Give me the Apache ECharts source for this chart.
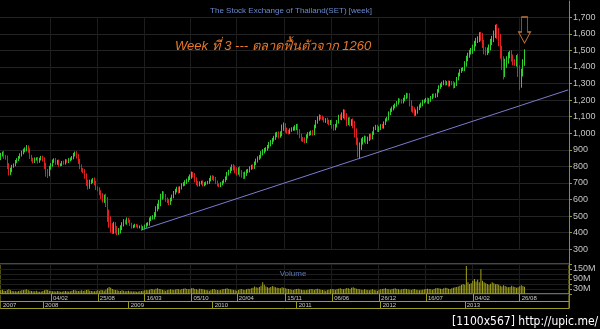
<!DOCTYPE html>
<html><head><meta charset="utf-8">
<script src="https://cdn.jsdelivr.net/npm/echarts@6/dist/echarts.min.js"></script>
<style>html,body{margin:0;padding:0;background:#000}#c{width:600px;height:329px}</style>
</head><body><div id="c"></div>
<script>
// ---- weekly SET closes, first week = 2007-07-02 ----
const firstOpen = 850;
const close2007 = [870,880,860,850,800,765,775,800,810,830,840,855,870,885,895,905,915,895,860,840,830,845,845,830,845,855];
const close2008 = [840,800,760,755,790,810,830,840,820,830, 810,810,825,820,835,830,840,845,855,870,
  880,860,830,800,780,770,740,700,680,705, 710,720,700,670,660,640,620,600,610,580,
  500,470,430,420,440,420,405,410,430,450, 470,460];
const close2009 = [480,470,450,435,440,445,440,435,435,425, 430,440,450,455,480,490,495,510,545,560,
  580,615,635,620,600,590,580,600,620,640, 655,665,650,670,690,695,705,715,730,740,
  755,745,720,700,690,700,705,690,695,700, 705,720];
const close2010 = [735,730,725,705,690,685,695,705,715,730, 755,770,785,800,790,775,765,780,760,750,
  740,755,770,775,790,800,795,820,835,850, 860,880,890,900,905,920,935,945,960,975,
  990,995,985,1000,1035,1045,1020,1010,1005,1020, 1025,1030];
const close2011 = [1035,1040,1010,985,965,960,955,980,995,1000, 1005,1000,1040,1070,1090,1100,1095,1090,1075,1080,
  1070,1060,1070,1040,1030,1045,1070,1100,1095,1110, 1125,1100,1065,1080,1060,1070,1050,1000,960,870,
  920,950,960,970,950,965,985,975,1000,1030, 1040,1020];
const close2012 = [1030,1045,1040,1060,1080,1090,1120,1140,1150,1160, 1170,1185,1200,1195,1190,1205,1220,1230,1225,1180,
  1150,1140,1120,1130,1150,1165,1175,1190,1195,1205, 1190,1200,1215,1230,1225,1230,1255,1280,1290,1300,
  1310,1300,1305,1295,1305,1300,1285,1295,1330,1355, 1375,1385,1390];
const close2013 = [1420,1450,1470,1490,1500,1515,1540,1560,1570,1590, 1580,1540,1500,1490,1500,1520,1550,1570,1600,1630,
  1600,1560,1490,1420,1370,1420,1440,1470,1480,1455, 1430,1425,1450,1370,1300,1365,1425,1489.06];

// ---- weekly wick length beyond the body (points) ----
const wick2007 = [12,10,14,10,16,20,18,10,8,9,10,8,9,10,12,10,14,12,15,10,12,9,10,12,8,9];
const wick2008 = [10,15,22,25,14,10,12,9,11,10, 12,9,8,10,9,8,10,9,8,12, 10,12,14,16,12,10,14,18,20,15,
  12,10,14,12,10,14,16,18,20,25, 35,40,30,28,26,24,20,18,15,14, 12,10];
const wick2009 = [12,10,9,10,8,9,8,10,9,14, 10,9,10,9,12,10,11,14,15,16, 18,20,16,15,14,12,14,12,10,12,
  10,12,14,10,9,10,12,11,10,12, 14,12,16,14,12,10,9,11,10,9, 8,10];
const wick2010 = [10,12,14,12,10,9,10,9,8,10, 12,10,11,12,14,16,20,15,22,18, 16,14,12,10,11,10,12,10,12,11,
  10,12,14,12,11,10,12,14,12,10, 15,14,16,12,18,20,16,14,12,10, 11,10];
const wick2011 = [14,16,18,15,14,12,16,14,12,10, 12,14,12,10,12,14,11,12,10,12, 14,12,10,12,14,12,10,12,14,16,
  20,18,22,16,18,15,20,25,30,15, 25,20,18,16,14,15,12,14,12,10, 11,12];
const wick2012 = [12,10,11,12,10,9,12,10,11,12, 10,9,12,10,11,10,12,14,12,18, 20,16,18,14,12,10,11,12,10,9,
  11,12,10,9,10,11,12,10,12,11, 10,12,10,14,12,10,15,12,10,11, 12,10,9];
const wick2013 = [15,18,16,14,15,20,18,16,15,20, 22,25,24,20,18,16,20,18,20,25, 30,35,40,38,45,30,25,20,18,22,
  20,18,22,30,40,25,22,18];

// ---- weekly volume, millions of shares ----
const vol2007 = [22,25,20,18,24,28,22,18,16,17,15,18,20,22,24,26,28,22,20,18,17,16,19,15,14,15];
const vol2008 = [18,22,26,24,20,18,16,17,15,18, 16,14,15,17,18,16,15,17,20,24, 22,19,18,20,22,18,21,24,26,20,
  18,17,16,19,22,20,24,22,20,26, 35,42,38,30,26,24,22,20,18,22, 20,16];
const vol2009 = [18,20,17,16,15,16,14,15,16,18, 20,22,24,22,26,30,28,26,32,35, 30,28,26,22,20,24,26,28,25,24,
  27,30,28,26,30,32,34,30,28,30, 34,36,30,28,26,32,30,28,26,24, 22,20];
const vol2010 = [24,28,30,26,24,22,24,28,30,32, 35,30,28,26,24,22,20,24,28,30, 26,24,28,32,30,34,38,45,40,38,
  42,50,70,55,45,40,38,42,48,44, 40,38,36,34,40,38,35,32,30,28, 26,24];
const vol2011 = [28,30,32,28,26,24,22,24,26,28, 30,28,26,30,32,28,26,24,22,20, 24,26,28,30,28,26,30,32,34,30,
  28,32,36,34,30,38,40,36,32,30, 28,26,24,28,26,24,22,26,28,24, 22,20];
const vol2012 = [26,28,30,32,34,30,28,26,30,32, 34,30,28,26,28,30,32,30,28,26, 24,28,30,26,24,22,24,26,28,30,
  32,30,28,26,30,34,36,34,32,30, 34,38,36,32,30,34,38,40,42,45, 50,55,60];
const vol2013 = [55,168,70,60,65,80,90,75,85,70, 148,80,70,65,60,55,62,70,65,58, 60,55,50,45,52,48,44,40,42,50,
  45,42,38,40,46,52,48,44];

// ---- axis tick labels ----
const dateTickWeeks  = ['2008-02-04','2008-08-25','2009-03-16','2009-10-05','2010-04-19','2010-11-15','2011-06-06','2011-12-26','2012-07-16','2013-02-04','2013-08-26'];
const dateTickLabels = ['04/02','25/08','16/03','05/10','20/04','15/11','06/06','26/12','16/07','04/02','26/08'];
const yearTickWeeks  = ['2007-07-02','2007-12-31','2009-01-05','2010-01-04','2011-01-03','2012-01-02','2012-12-31'];
const yearTickLabels = ['2007','2008','2009','2010','2011','2012','2013'];
const volumeLabels = [30,90,150];

// ---- annotations ----
const trendStart = ['2009-03-09', 420];
const trendEndValue = 1262;
const arrowValue = 1623;

// ---- build ----
const totalWeeks = 352;
const dates = [];
const t0 = Date.UTC(2007,6,2);
for (let k=0;k<totalWeeks;k++){ dates.push(new Date(t0+k*7*864e5).toISOString().slice(0,10)); }
const closes = [].concat(close2007,close2008,close2009,close2010,close2011,close2012,close2013);
const wicks = [].concat(wick2007,wick2008,wick2009,wick2010,wick2011,wick2012,wick2013);
const vols = [].concat(vol2007,vol2008,vol2009,vol2010,vol2011,vol2012,vol2013);
const candles = closes.map((c,i)=>{
  const o = i===0 ? firstOpen : closes[i-1];
  return [o, c, Math.min(o,c)-wicks[i], Math.max(o,c)+wicks[i]];
});
const dateLabelMap = {}; dateTickWeeks.forEach((d,k)=>dateLabelMap[d]=dateTickLabels[k]);
const yearLabelMap = {}; yearTickWeeks.forEach((d,k)=>yearLabelMap[d]=yearTickLabels[k]);
const isDateTick = (i)=> dateLabelMap[dates[i]] !== undefined;
const isYearTick = (i)=> yearLabelMap[dates[i]] !== undefined;
const lastIdx = closes.length-1;
const lastClose = closes[lastIdx];

const Y = '#9c9c22';
const chart = echarts.init(document.getElementById('c'), null, {renderer:'canvas'});
chart.setOption({
  backgroundColor:'#000',
  animation:false,
  title:[
    {text:'The Stock Exchange of Thailand(SET) [week]', left:286, top:2, textAlign:'center',
     textStyle:{color:'#6a8ad0',fontSize:8,fontWeight:'normal',fontFamily:'Liberation Sans'}},
    {text:'Week ที่ 3 --- ตลาดฟื้นตัวจาก 1260', left:170, top:35,
     textStyle:{color:'#e8772a',fontSize:13,fontStyle:'italic',fontWeight:'normal',fontFamily:'Liberation Sans'}},
    {text:'Volume', left:288, top:265, textAlign:'center',
     textStyle:{color:'#5a78b8',fontSize:8,fontWeight:'normal',fontFamily:'Liberation Sans'}},
    {text:'[1100x567] http://upic.me/', left:447, top:311,
     textStyle:{color:'#ffffff',fontSize:12,fontWeight:'normal',fontFamily:'DejaVu Sans Condensed'}}
  ],
  grid:[
    {left:0,right:31,top:17.3,height:232},
    {left:0,right:31,top:264,height:30,show:true,borderColor:Y,borderWidth:1,backgroundColor:'transparent'},
    {left:0,right:31,top:294,height:7.5,show:true,borderColor:Y,borderWidth:1,backgroundColor:'transparent'},
    {left:0,right:31,top:301.5,height:7,show:true,borderColor:Y,borderWidth:1,backgroundColor:'transparent'},
    {left:0,right:31,top:1,height:307}
  ],
  xAxis:[
    {gridIndex:0,type:'category',data:dates,axisLine:{show:false,onZero:false},axisTick:{show:false},axisLabel:{show:false},
     splitLine:{show:true,interval:(i)=>isDateTick(i),lineStyle:{color:'#1d1d1d'}}},
    {gridIndex:1,type:'category',data:dates,axisLine:{show:false,onZero:false},axisTick:{show:false},axisLabel:{show:false},
     splitLine:{show:true,interval:(i)=>isDateTick(i),lineStyle:{color:'#1d1d1d'}}},
    {gridIndex:2,type:'category',data:dates,position:'top',axisLine:{show:false,onZero:false},
     axisTick:{show:true,inside:true,length:7.5,alignWithLabel:true,interval:(i)=>isDateTick(i),lineStyle:{color:Y}},
     axisLabel:{show:true,inside:true,margin:1,align:'left',padding:[0,0,0,2],interval:(i)=>isDateTick(i),
       formatter:(v)=>dateLabelMap[v]||'',color:'#c8c8c8',fontSize:6,fontFamily:'Liberation Sans'}},
    {gridIndex:3,type:'category',data:dates,position:'top',axisLine:{show:false,onZero:false},
     axisTick:{show:true,inside:true,length:7,alignWithLabel:true,interval:(i)=>isYearTick(i)&&i>0,lineStyle:{color:Y}},
     axisLabel:{show:true,inside:true,margin:1,align:'left',padding:[0,0,0,2],interval:(i)=>isYearTick(i),
       formatter:(v)=>yearLabelMap[v]||'',color:'#c8c8c8',fontSize:6,fontFamily:'Liberation Sans'}},
    {gridIndex:4,type:'category',data:dates,show:false,axisLine:{onZero:false}}
  ],
  yAxis:[
    {gridIndex:0,type:'value',position:'right',min:300,max:1700,interval:100,
     axisLine:{show:false},axisTick:{show:true,length:3,lineStyle:{color:Y}},
     axisLabel:{color:'#c4c4c4',fontSize:9,margin:4,fontFamily:'Liberation Sans',formatter:(v)=>v.toLocaleString('en-US')},
     splitLine:{show:true,lineStyle:{color:'#232323'}}},
    {gridIndex:1,type:'value',position:'right',min:0,max:180,interval:30,
     axisLine:{show:false},axisTick:{show:true,length:3,lineStyle:{color:Y}},
     axisLabel:{color:'#c4c4c4',fontSize:9,margin:4,fontFamily:'Liberation Sans',
       formatter:(v)=>volumeLabels.includes(v)?v+'M':''},
     splitLine:{show:true,lineStyle:{color:'#1d1d1d'}}},
    {gridIndex:2,type:'value',show:false,min:0,max:1},
    {gridIndex:3,type:'value',show:false,min:0,max:1},
    {gridIndex:4,type:'value',position:'right',min:0,max:1,axisLine:{show:true,lineStyle:{color:'#8e8e1e'}},
     axisTick:{show:false},axisLabel:{show:false},splitLine:{show:false}}
  ],
  series:[
    {type:'candlestick',xAxisIndex:0,yAxisIndex:0,data:candles,barWidth:1,
     itemStyle:{color:'#2fd12f',color0:'#e01f1f',borderColor:'#2fd12f',borderColor0:'#e01f1f',borderWidth:1},
     markLine:{silent:true,symbol:'none',animation:false,
       data:[
         [{coord:trendStart,lineStyle:{color:'#7b7bd0',width:1,type:'solid'},label:{show:false}},
          {coord:[dates[dates.length-1],trendEndValue]}],
         {yAxis:lastClose,lineStyle:{opacity:0},
          label:{show:true,position:'end',distance:1,formatter:()=>lastClose.toLocaleString('en-US',{minimumFractionDigits:2}),
            color:'#1c5a1c',backgroundColor:'#c6efb6',fontSize:8,padding:[1,1,0,1],fontFamily:'Liberation Sans'}}
       ]},
     markPoint:{silent:true,animation:false,data:[
       {coord:[dates[lastIdx],arrowValue],symbol:'path://M3 0 L9 0 L9 15 L12 15 L6 26 L0 15 L3 15 Z',
        symbolSize:[12,26],itemStyle:{color:'rgba(0,0,0,0)',borderColor:'#c0743a',borderWidth:1},label:{show:false}}
     ]}
    },
    {type:'bar',xAxisIndex:1,yAxisIndex:1,data:vols,barWidth:1,itemStyle:{color:'#a4a41e'}}
  ]
});
</script></body></html>
